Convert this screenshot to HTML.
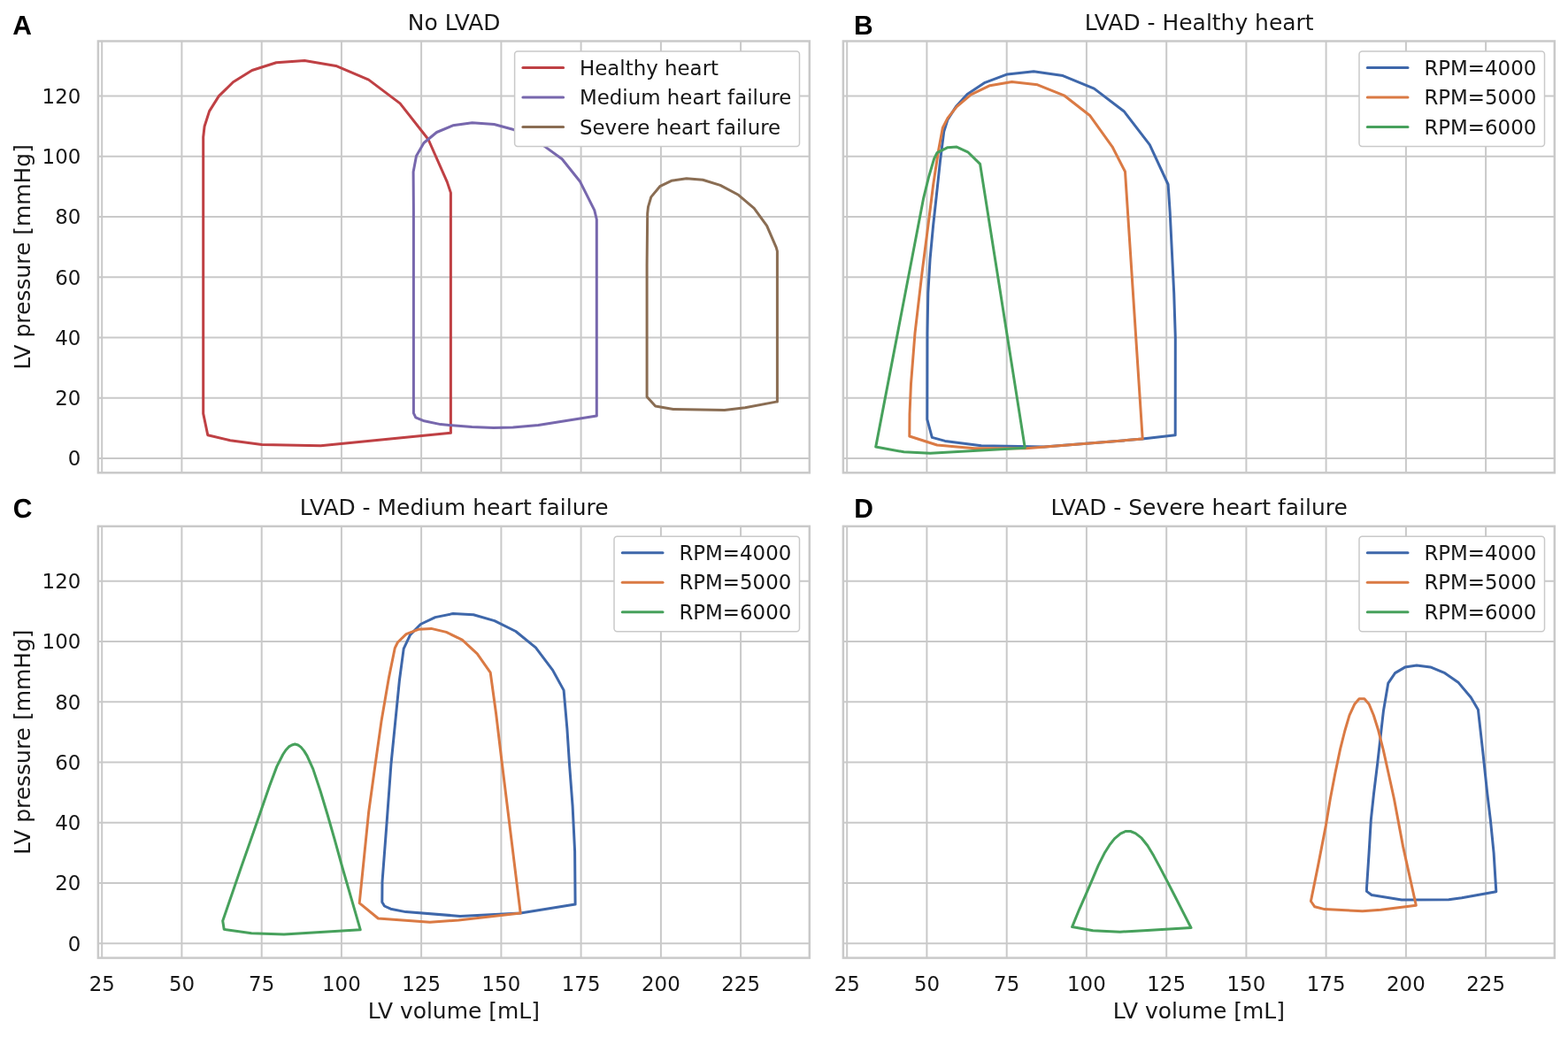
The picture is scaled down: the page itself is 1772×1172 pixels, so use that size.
<!DOCTYPE html>
<html lang="en"><head><meta charset="utf-8"><title>LV pressure-volume loops</title>
<style>html,body{margin:0;padding:0;background:#fff}body{width:1772px;height:1172px;overflow:hidden}svg{display:block}text{font-family:"DejaVu Sans","Liberation Sans",sans-serif;fill:#171717}.t{font-size:23.3px}.l{font-size:25.4px}.p{font-family:"Liberation Sans","DejaVu Sans",sans-serif;font-weight:700;font-size:30px;fill:#000;text-rendering:geometricPrecision}.g line{stroke:#c9c9c9;stroke-width:2.0;stroke-linecap:butt}.c polyline{fill:none;stroke-width:3.0;stroke-linejoin:round;stroke-linecap:round}.h line{stroke-width:3.0;stroke-linecap:round}</style></head><body>
<svg width="1772" height="1172" viewBox="0 0 1772 1172">
<rect width="1772" height="1172" fill="#fff"/>
<g id="panel-A">
<g class="g">
<line x1="115.2" y1="46.5" x2="115.2" y2="534.3"/>
<line x1="205.4" y1="46.5" x2="205.4" y2="534.3"/>
<line x1="295.7" y1="46.5" x2="295.7" y2="534.3"/>
<line x1="385.9" y1="46.5" x2="385.9" y2="534.3"/>
<line x1="476.1" y1="46.5" x2="476.1" y2="534.3"/>
<line x1="566.4" y1="46.5" x2="566.4" y2="534.3"/>
<line x1="656.6" y1="46.5" x2="656.6" y2="534.3"/>
<line x1="746.9" y1="46.5" x2="746.9" y2="534.3"/>
<line x1="837.1" y1="46.5" x2="837.1" y2="534.3"/>
<line x1="110.9" y1="518.0" x2="914.8" y2="518.0"/>
<line x1="110.9" y1="449.8" x2="914.8" y2="449.8"/>
<line x1="110.9" y1="381.5" x2="914.8" y2="381.5"/>
<line x1="110.9" y1="313.2" x2="914.8" y2="313.2"/>
<line x1="110.9" y1="245.0" x2="914.8" y2="245.0"/>
<line x1="110.9" y1="176.8" x2="914.8" y2="176.8"/>
<line x1="110.9" y1="108.5" x2="914.8" y2="108.5"/>
</g>
<g class="c">
<polyline stroke="#bf4044" points="509.4,489.3 509.4,217.9 505.3,205.6 484.0,157.5 452.1,116.9 416.6,90.1 379.6,74.4 344.2,68.5 312.2,70.8 284.8,79.5 263.5,92.7 247.3,108.6 236.6,125.6 231.1,142.7 229.7,155.0 229.7,467.4 234.8,491.8 260.1,497.7 295.9,502.4 362.5,503.7 509.4,489.3"/>
<polyline stroke="#7767ad" points="674.3,469.9 674.3,248.0 671.8,237.7 655.6,205.3 635.2,179.7 616.4,166.1 598.0,153.5 580.5,146.5 558.4,140.5 533.6,138.8 511.8,141.8 493.5,149.5 479.0,161.5 470.5,176.3 467.1,194.2 467.4,237.7 467.4,466.9 469.8,471.9 479.4,475.8 497.8,479.6 533.3,482.6 557.8,483.5 579.7,482.9 608.4,480.5 674.3,469.9"/>
<polyline stroke="#8a6d53" points="878.4,453.9 878.4,283.8 877.2,279.7 866.6,255.1 852.2,235.3 834.5,220.3 814.0,209.4 794.2,203.2 775.8,201.8 758.7,204.3 745.7,210.7 735.8,222.6 732.5,233.9 731.7,241.4 731.1,300.0 731.1,448.5 740.7,459.0 760.8,462.5 818.8,463.6 842.0,460.8 878.4,453.9"/>
</g>
<rect x="110.9" y="46.5" width="803.9" height="487.8" fill="none" stroke="#c9c9c9" stroke-width="2.5"/>
<text class="t" text-anchor="end" transform="translate(91.30,526.30) scale(0.983,1)">0</text>
<text class="t" text-anchor="end" transform="translate(91.30,458.05) scale(0.983,1)">20</text>
<text class="t" text-anchor="end" transform="translate(91.30,389.80) scale(0.983,1)">40</text>
<text class="t" text-anchor="end" transform="translate(91.30,321.55) scale(0.983,1)">60</text>
<text class="t" text-anchor="end" transform="translate(91.30,253.30) scale(0.983,1)">80</text>
<text class="t" text-anchor="end" transform="translate(91.30,185.05) scale(0.983,1)">100</text>
<text class="t" text-anchor="end" transform="translate(91.30,116.80) scale(0.983,1)">120</text>
<text class="l" text-anchor="middle" transform="translate(34.00,290.40) rotate(-90) scale(0.983,1)">LV pressure [mmHg]</text>
<text class="l" text-anchor="middle" transform="translate(513.15,34.10) scale(0.983,1)">No LVAD</text>
<rect x="581.6" y="58.0" width="321.9" height="107.4" rx="3.4" ry="3.4" fill="#fff" stroke="#c9c9c9" stroke-width="1.5"/>
<g class="h">
<line stroke="#bf4044" x1="590.9" y1="76.55" x2="636.6" y2="76.55"/>
<line stroke="#7767ad" x1="590.9" y1="110.05" x2="636.6" y2="110.05"/>
<line stroke="#8a6d53" x1="590.9" y1="143.55" x2="636.6" y2="143.55"/>
</g>
<text class="t" transform="translate(655.00,85.00) scale(0.983,1)">Healthy heart</text>
<text class="t" transform="translate(655.00,118.00) scale(0.983,1)">Medium heart failure</text>
<text class="t" transform="translate(655.00,152.00) scale(0.983,1)">Severe heart failure</text>
<text class="p" transform="translate(14.35,39.00) scale(1,1.015)">A</text>
</g>
<g id="panel-B">
<g class="g">
<line x1="957.2" y1="46.5" x2="957.2" y2="534.3"/>
<line x1="1047.4" y1="46.5" x2="1047.4" y2="534.3"/>
<line x1="1137.7" y1="46.5" x2="1137.7" y2="534.3"/>
<line x1="1227.9" y1="46.5" x2="1227.9" y2="534.3"/>
<line x1="1318.2" y1="46.5" x2="1318.2" y2="534.3"/>
<line x1="1408.4" y1="46.5" x2="1408.4" y2="534.3"/>
<line x1="1498.6" y1="46.5" x2="1498.6" y2="534.3"/>
<line x1="1588.9" y1="46.5" x2="1588.9" y2="534.3"/>
<line x1="1679.1" y1="46.5" x2="1679.1" y2="534.3"/>
<line x1="952.9" y1="518.0" x2="1756.8" y2="518.0"/>
<line x1="952.9" y1="449.8" x2="1756.8" y2="449.8"/>
<line x1="952.9" y1="381.5" x2="1756.8" y2="381.5"/>
<line x1="952.9" y1="313.2" x2="1756.8" y2="313.2"/>
<line x1="952.9" y1="245.0" x2="1756.8" y2="245.0"/>
<line x1="952.9" y1="176.8" x2="1756.8" y2="176.8"/>
<line x1="952.9" y1="108.5" x2="1756.8" y2="108.5"/>
</g>
<g class="c">
<polyline stroke="#3e67aa" points="1328.2,491.7 1328.3,381.2 1326.7,331.1 1322.2,240.0 1320.1,208.5 1299.3,163.6 1270.1,125.7 1236.5,100.1 1201.2,85.6 1168.2,80.8 1138.4,83.9 1113.1,93.3 1093.1,106.4 1080.3,120.6 1071.0,135.1 1066.7,148.7 1062.4,182.9 1058.2,222.1 1054.6,255.0 1051.1,292.4 1048.8,331.1 1048.0,376.7 1047.8,473.8 1053.3,494.4 1068.0,498.4 1109.0,503.8 1180.0,505.1 1291.2,496.1 1328.2,491.7"/>
<polyline stroke="#da7a44" points="1291.2,496.1 1271.5,194.0 1257.0,165.8 1231.9,130.8 1202.4,107.8 1172.5,95.8 1143.5,92.4 1118.7,96.7 1097.4,106.9 1081.2,120.6 1071.0,133.4 1065.3,144.5 1060.7,169.2 1054.7,208.5 1049.5,250.0 1042.0,308.3 1034.0,376.7 1029.5,433.6 1028.0,467.8 1027.8,493.0 1059.0,503.0 1101.4,506.7 1159.6,506.7 1291.2,496.1"/>
<polyline stroke="#47a15c" points="1158.3,506.2 1107.6,185.4 1093.7,171.8 1081.2,166.1 1071.0,166.7 1059.0,172.6 1055.6,179.5 1049.6,199.9 1043.7,223.8 989.7,505.1 1021.4,510.8 1051.2,512.3 1158.3,506.2"/>
</g>
<rect x="952.9" y="46.5" width="803.9" height="487.8" fill="none" stroke="#c9c9c9" stroke-width="2.5"/>
<text class="l" text-anchor="middle" transform="translate(1355.15,34.10) scale(0.983,1)">LVAD - Healthy heart</text>
<rect x="1536.0" y="58.0" width="209.5" height="107.4" rx="3.4" ry="3.4" fill="#fff" stroke="#c9c9c9" stroke-width="1.5"/>
<g class="h">
<line stroke="#3e67aa" x1="1545.3" y1="76.55" x2="1591.0" y2="76.55"/>
<line stroke="#da7a44" x1="1545.3" y1="110.05" x2="1591.0" y2="110.05"/>
<line stroke="#47a15c" x1="1545.3" y1="143.55" x2="1591.0" y2="143.55"/>
</g>
<text class="t" transform="translate(1609.40,85.00) scale(0.983,1)">RPM=4000</text>
<text class="t" transform="translate(1609.40,118.00) scale(0.983,1)">RPM=5000</text>
<text class="t" transform="translate(1609.40,152.00) scale(0.983,1)">RPM=6000</text>
<text class="p" transform="translate(965.05,39.00) scale(1,1.015)">B</text>
</g>
<g id="panel-C">
<g class="g">
<line x1="115.2" y1="594.8" x2="115.2" y2="1082.6"/>
<line x1="205.4" y1="594.8" x2="205.4" y2="1082.6"/>
<line x1="295.7" y1="594.8" x2="295.7" y2="1082.6"/>
<line x1="385.9" y1="594.8" x2="385.9" y2="1082.6"/>
<line x1="476.1" y1="594.8" x2="476.1" y2="1082.6"/>
<line x1="566.4" y1="594.8" x2="566.4" y2="1082.6"/>
<line x1="656.6" y1="594.8" x2="656.6" y2="1082.6"/>
<line x1="746.9" y1="594.8" x2="746.9" y2="1082.6"/>
<line x1="837.1" y1="594.8" x2="837.1" y2="1082.6"/>
<line x1="110.9" y1="1066.3" x2="914.8" y2="1066.3"/>
<line x1="110.9" y1="998.0" x2="914.8" y2="998.0"/>
<line x1="110.9" y1="929.8" x2="914.8" y2="929.8"/>
<line x1="110.9" y1="861.5" x2="914.8" y2="861.5"/>
<line x1="110.9" y1="793.3" x2="914.8" y2="793.3"/>
<line x1="110.9" y1="725.0" x2="914.8" y2="725.0"/>
<line x1="110.9" y1="656.8" x2="914.8" y2="656.8"/>
</g>
<g class="c">
<polyline stroke="#3e67aa" points="650.1,1022.1 649.6,962.4 647.1,911.2 643.6,865.0 640.9,823.6 637.1,780.1 624.6,757.4 605.4,731.8 582.8,713.5 558.9,701.6 535.1,694.7 512.0,693.5 491.9,697.6 475.3,705.5 463.4,717.8 456.2,733.1 451.4,769.0 446.3,820.2 442.0,863.0 437.2,928.3 432.0,996.5 431.8,1019.5 434.5,1024.0 441.4,1027.2 458.5,1030.6 519.9,1035.4 588.2,1032.0 650.1,1022.1"/>
<polyline stroke="#da7a44" points="588.2,1032.0 567.0,860.0 560.6,806.5 554.2,760.1 539.3,738.8 522.3,723.2 504.3,714.4 487.3,710.4 472.8,711.3 459.1,716.6 449.4,726.0 446.3,732.3 439.5,765.6 431.0,815.1 423.8,866.0 416.6,918.3 406.2,1020.6 427.4,1038.0 485.8,1042.3 518.2,1040.0 588.2,1032.0"/>
<polyline stroke="#47a15c" points="407.2,1050.7 386.8,980.0 378.4,949.7 370.2,921.0 362.0,893.7 353.8,869.1 347.0,854.1 343.6,848.6 340.1,844.4 336.8,842.0 333.3,841.0 329.9,842.0 326.5,843.9 323.0,847.7 319.7,852.8 312.8,866.4 304.6,888.3 293.7,919.7 282.8,951.1 272.6,980.0 251.7,1040.8 253.2,1050.3 284.2,1054.8 321.0,1056.1 407.2,1050.7"/>
</g>
<rect x="110.9" y="594.8" width="803.9" height="487.8" fill="none" stroke="#c9c9c9" stroke-width="2.5"/>
<text class="t" text-anchor="middle" transform="translate(115.20,1119.60) scale(0.983,1)">25</text>
<text class="t" text-anchor="middle" transform="translate(205.44,1119.60) scale(0.983,1)">50</text>
<text class="t" text-anchor="middle" transform="translate(295.68,1119.60) scale(0.983,1)">75</text>
<text class="t" text-anchor="middle" transform="translate(385.91,1119.60) scale(0.983,1)">100</text>
<text class="t" text-anchor="middle" transform="translate(476.15,1119.60) scale(0.983,1)">125</text>
<text class="t" text-anchor="middle" transform="translate(566.39,1119.60) scale(0.983,1)">150</text>
<text class="t" text-anchor="middle" transform="translate(656.63,1119.60) scale(0.983,1)">175</text>
<text class="t" text-anchor="middle" transform="translate(746.86,1119.60) scale(0.983,1)">200</text>
<text class="t" text-anchor="middle" transform="translate(837.10,1119.60) scale(0.983,1)">225</text>
<text class="l" text-anchor="middle" transform="translate(512.85,1151.40) scale(0.983,1)">LV volume [mL]</text>
<text class="t" text-anchor="end" transform="translate(91.30,1074.60) scale(0.983,1)">0</text>
<text class="t" text-anchor="end" transform="translate(91.30,1006.35) scale(0.983,1)">20</text>
<text class="t" text-anchor="end" transform="translate(91.30,938.10) scale(0.983,1)">40</text>
<text class="t" text-anchor="end" transform="translate(91.30,869.85) scale(0.983,1)">60</text>
<text class="t" text-anchor="end" transform="translate(91.30,801.60) scale(0.983,1)">80</text>
<text class="t" text-anchor="end" transform="translate(91.30,733.35) scale(0.983,1)">100</text>
<text class="t" text-anchor="end" transform="translate(91.30,665.10) scale(0.983,1)">120</text>
<text class="l" text-anchor="middle" transform="translate(34.00,838.70) rotate(-90) scale(0.983,1)">LV pressure [mmHg]</text>
<text class="l" text-anchor="middle" transform="translate(513.15,582.40) scale(0.983,1)">LVAD - Medium heart failure</text>
<rect x="694.0" y="606.3" width="209.5" height="107.4" rx="3.4" ry="3.4" fill="#fff" stroke="#c9c9c9" stroke-width="1.5"/>
<g class="h">
<line stroke="#3e67aa" x1="703.3" y1="624.85" x2="749.0" y2="624.85"/>
<line stroke="#da7a44" x1="703.3" y1="658.35" x2="749.0" y2="658.35"/>
<line stroke="#47a15c" x1="703.3" y1="691.85" x2="749.0" y2="691.85"/>
</g>
<text class="t" transform="translate(767.40,633.00) scale(0.983,1)">RPM=4000</text>
<text class="t" transform="translate(767.40,666.00) scale(0.983,1)">RPM=5000</text>
<text class="t" transform="translate(767.40,700.00) scale(0.983,1)">RPM=6000</text>
<text class="p" transform="translate(14.85,585.00) scale(1,1.015)">C</text>
</g>
<g id="panel-D">
<g class="g">
<line x1="957.2" y1="594.8" x2="957.2" y2="1082.6"/>
<line x1="1047.4" y1="594.8" x2="1047.4" y2="1082.6"/>
<line x1="1137.7" y1="594.8" x2="1137.7" y2="1082.6"/>
<line x1="1227.9" y1="594.8" x2="1227.9" y2="1082.6"/>
<line x1="1318.2" y1="594.8" x2="1318.2" y2="1082.6"/>
<line x1="1408.4" y1="594.8" x2="1408.4" y2="1082.6"/>
<line x1="1498.6" y1="594.8" x2="1498.6" y2="1082.6"/>
<line x1="1588.9" y1="594.8" x2="1588.9" y2="1082.6"/>
<line x1="1679.1" y1="594.8" x2="1679.1" y2="1082.6"/>
<line x1="952.9" y1="1066.3" x2="1756.8" y2="1066.3"/>
<line x1="952.9" y1="998.0" x2="1756.8" y2="998.0"/>
<line x1="952.9" y1="929.8" x2="1756.8" y2="929.8"/>
<line x1="952.9" y1="861.5" x2="1756.8" y2="861.5"/>
<line x1="952.9" y1="793.3" x2="1756.8" y2="793.3"/>
<line x1="952.9" y1="725.0" x2="1756.8" y2="725.0"/>
<line x1="952.9" y1="656.8" x2="1756.8" y2="656.8"/>
</g>
<g class="c">
<polyline stroke="#3e67aa" points="1690.8,1007.7 1688.1,963.8 1684.4,926.9 1680.8,897.0 1675.6,848.1 1670.4,801.9 1662.3,788.3 1648.3,771.6 1632.8,760.7 1616.5,753.9 1601.0,751.9 1587.7,754.1 1576.6,760.6 1568.8,772.1 1563.4,803.8 1556.7,862.9 1552.5,897.0 1549.3,926.9 1547.1,963.8 1544.5,1003.7 1544.5,1007.4 1550.1,1011.5 1584.0,1017.0 1637.2,1016.7 1651.9,1014.8 1690.8,1007.7"/>
<polyline stroke="#da7a44" points="1600.3,1023.2 1585.5,956.4 1575.5,903.0 1569.3,874.7 1563.4,848.1 1557.4,824.5 1552.3,808.3 1547.1,795.7 1541.9,789.8 1536.0,789.8 1530.9,795.7 1525.0,808.3 1519.8,826.0 1514.6,846.6 1508.7,874.7 1503.3,903.0 1498.4,932.8 1489.5,978.6 1481.4,1018.5 1485.8,1024.8 1496.9,1027.6 1539.7,1029.8 1560.4,1028.3 1600.3,1023.2"/>
<polyline stroke="#47a15c" points="1346.0,1048.5 1336.6,1030.1 1327.6,1012.5 1318.5,994.9 1310.5,979.6 1303.7,967.1 1296.9,955.8 1290.1,947.2 1283.3,941.8 1277.6,939.5 1271.9,939.6 1266.3,942.1 1259.5,947.8 1253.8,955.2 1248.1,964.3 1241.3,977.9 1234.5,993.8 1227.7,1009.7 1219.7,1027.8 1211.6,1047.6 1235.1,1051.7 1265.8,1053.2 1292.4,1051.7 1346.0,1048.5"/>
</g>
<rect x="952.9" y="594.8" width="803.9" height="487.8" fill="none" stroke="#c9c9c9" stroke-width="2.5"/>
<text class="t" text-anchor="middle" transform="translate(957.20,1119.60) scale(0.983,1)">25</text>
<text class="t" text-anchor="middle" transform="translate(1047.44,1119.60) scale(0.983,1)">50</text>
<text class="t" text-anchor="middle" transform="translate(1137.67,1119.60) scale(0.983,1)">75</text>
<text class="t" text-anchor="middle" transform="translate(1227.91,1119.60) scale(0.983,1)">100</text>
<text class="t" text-anchor="middle" transform="translate(1318.15,1119.60) scale(0.983,1)">125</text>
<text class="t" text-anchor="middle" transform="translate(1408.39,1119.60) scale(0.983,1)">150</text>
<text class="t" text-anchor="middle" transform="translate(1498.62,1119.60) scale(0.983,1)">175</text>
<text class="t" text-anchor="middle" transform="translate(1588.86,1119.60) scale(0.983,1)">200</text>
<text class="t" text-anchor="middle" transform="translate(1679.10,1119.60) scale(0.983,1)">225</text>
<text class="l" text-anchor="middle" transform="translate(1354.85,1151.40) scale(0.983,1)">LV volume [mL]</text>
<text class="l" text-anchor="middle" transform="translate(1355.15,582.40) scale(0.983,1)">LVAD - Severe heart failure</text>
<rect x="1536.0" y="606.3" width="209.5" height="107.4" rx="3.4" ry="3.4" fill="#fff" stroke="#c9c9c9" stroke-width="1.5"/>
<g class="h">
<line stroke="#3e67aa" x1="1545.3" y1="624.85" x2="1591.0" y2="624.85"/>
<line stroke="#da7a44" x1="1545.3" y1="658.35" x2="1591.0" y2="658.35"/>
<line stroke="#47a15c" x1="1545.3" y1="691.85" x2="1591.0" y2="691.85"/>
</g>
<text class="t" transform="translate(1609.40,633.00) scale(0.983,1)">RPM=4000</text>
<text class="t" transform="translate(1609.40,666.00) scale(0.983,1)">RPM=5000</text>
<text class="t" transform="translate(1609.40,700.00) scale(0.983,1)">RPM=6000</text>
<text class="p" transform="translate(965.25,585.00) scale(1,1.015)">D</text>
</g>
</svg></body></html>
